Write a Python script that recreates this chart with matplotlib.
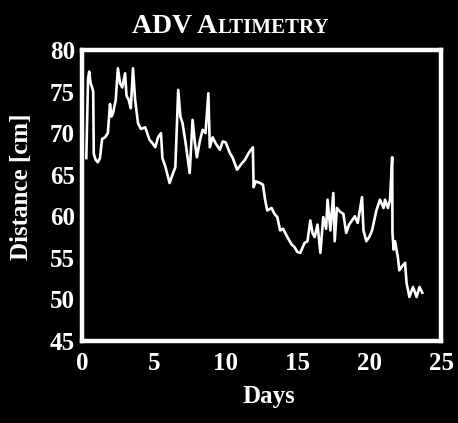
import matplotlib.pyplot as plt

# ADV altimetry record
days = [0.3, 0.42, 0.5, 0.6, 0.7, 0.78, 0.82, 0.95, 1.1, 1.25, 1.4, 1.6, 1.8,
        1.95, 2.05, 2.16, 2.35, 2.5, 2.65, 2.8, 3.0, 3.1, 3.25, 3.4, 3.55, 3.7,
        3.9, 4.1, 4.4, 4.7, 4.9, 5.1, 5.3, 5.5, 5.6, 5.8, 6.1, 6.3, 6.5, 6.7,
        6.85, 7.0, 7.2, 7.5, 7.7, 7.85, 8.0, 8.2, 8.4, 8.6, 8.8, 8.9, 9.1, 9.3,
        9.6, 9.8, 10.0, 10.3, 10.5, 10.8, 11.1, 11.35, 11.6, 11.9, 11.95, 12.1,
        12.4, 12.6, 12.75, 12.9, 13.2, 13.4, 13.6, 13.8, 14.0, 14.3, 14.6, 14.8,
        15.0, 15.2, 15.5, 15.7, 15.9, 16.05, 16.2, 16.4, 16.6, 16.8, 17.0, 17.1,
        17.3, 17.5, 17.6, 17.75, 18.0, 18.2, 18.4, 18.6, 18.8, 19.0, 19.2, 19.5,
        19.6, 19.8, 20.0, 20.2, 20.5, 20.75, 21.0, 21.1, 21.3, 21.45, 21.6,
        21.62, 21.7, 21.8, 22.0, 22.1, 22.3, 22.5, 22.6, 22.8, 23.05, 23.3,
        23.5, 23.7]
dist = [67, 76.5, 77.4, 76, 75.5, 75, 67.5, 66.8, 66.5, 67, 69.3, 69.5, 70,
        73.5, 72, 72.4, 74, 77.8, 76, 75.5, 77.2, 74.5, 74, 73, 77.8, 74,
        71.2, 70.5, 70.7, 69.2, 68.8, 68.3, 69.5, 70, 67, 66, 64, 65, 65.9, 75.2,
        72, 71.2, 69, 65.2, 71.6, 69, 67.1, 69, 70.4, 70, 74.8, 68.3, 69.5, 68.8,
        68, 69, 68.9, 67.6, 67, 65.6, 66.3, 66.8, 67.6, 68.3, 63.5, 64.2,
        64, 63.8, 62, 60.7, 61, 60.3, 59.9, 58.3, 58.5, 57.5, 56.6, 56.3,
        55.7, 55.6, 56.8, 57, 59.5, 58, 57.5, 59, 55.6, 59.9, 58.5, 62,
        58.3, 62.8, 57, 61, 60.5, 60.3, 58, 59, 59.5, 60, 59.2, 62.3,
        58.3, 57, 57.5, 58.3, 60.7, 62, 61, 62, 61, 62, 67.1,
        58, 56, 57, 55, 53.5, 54, 54.4, 52, 50.3, 51.5, 50.3,
        51.5, 50.8]

xticks = [0, 5, 10, 15, 20, 25]
yticks = [45, 50, 55, 60, 65, 70, 75, 80]

plt.rcParams['font.family'] = 'Liberation Serif'
plt.rcParams['font.weight'] = 'bold'

W, H = 458, 423
fig = plt.figure(figsize=(W / 100, H / 100), dpi=100, facecolor='black')
ax = fig.add_axes([82 / W, 1 - 341 / H, 359 / W, 291 / H], facecolor='black')

ax.plot(days, dist, color='white', lw=1.9)

ax.set_xlim(0, 25)
ax.set_ylim(45, 80)
ax.set_xticks(xticks)
ax.set_yticks(yticks)
ax.tick_params(axis='x', length=0, colors='white', labelsize=18, pad=8)
ax.tick_params(axis='y', length=0, colors='white', labelsize=18, pad=5)
for lab in ax.get_xticklabels() + ax.get_yticklabels():
    lab.set_fontweight('bold')
for s in ax.spines.values():
    s.set_color('white')
    s.set_linewidth(3.2)

ax.set_xlabel('Days', color='white', fontsize=18, fontweight='bold')
ax.set_ylabel('Distance [cm]', color='white', fontsize=18, fontweight='bold')
ax.xaxis.set_label_coords(0.521, -0.151)
ax.yaxis.set_label_coords(-0.136, 0.531)

# small-caps style title, built from two pieces on a common baseline
ty = 1 - 33 / H
t1 = fig.text(132 / W, ty, 'ADV A', color='white', fontsize=20,
              fontweight='bold', ha='left', va='baseline')
fig.canvas.draw()
bb = t1.get_window_extent(renderer=fig.canvas.get_renderer())
fig.text(bb.x1 / W, ty, 'LTIMETRY', color='white', fontsize=15,
         fontweight='bold', ha='left', va='baseline')

fig.savefig('out.png', dpi=100, facecolor='black')
